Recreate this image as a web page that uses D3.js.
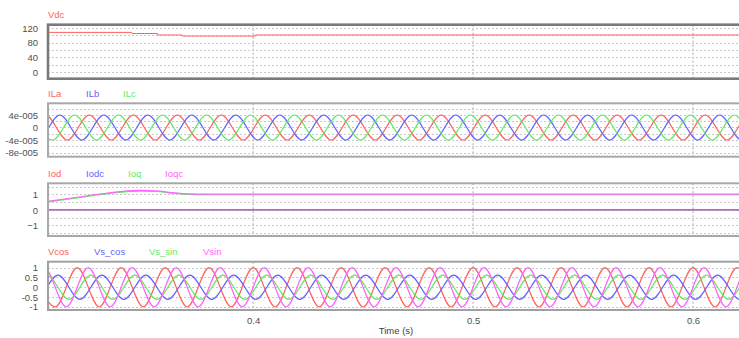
<!DOCTYPE html>
<html><head><meta charset="utf-8">
<script src="https://cdn.jsdelivr.net/npm/d3@7"></script>
<style>
body{margin:0;background:#fff;overflow:hidden}
text{font-family:"Liberation Sans",Arial,sans-serif}
</style>
</head><body>
<svg id="c" width="739" height="338"></svg>
<script>
// ---------- data ----------
const timeTicks = [0.4, 0.5, 0.6];
const timeDomain = [0.3067, 0.625];

// Panel 1: Vdc (time, value) breakpoints
const vdcT = [0.3067, 0.3448, 0.3449, 0.3564, 0.3565, 0.3677, 0.3678, 0.4009, 0.4010, 0.625];
const vdcV = [108, 108, 105, 105, 101, 101, 98, 98, 101, 101];
const vdcTicks = [0, 40, 80, 120];

// Panel 2: load currents, times of maxima / minima (s), amplitude
const ilAmp = 4e-5;
const ilaMax = [0.3055,0.3255,0.3455,0.3655,0.3855,0.4055,0.4255,0.4455,0.4655,0.4855,0.5055,0.5255,0.5455,0.5655,0.5855,0.6055,0.6255];
const ilaMin = [0.2955,0.3155,0.3355,0.3555,0.3755,0.3955,0.4155,0.4355,0.4555,0.4755,0.4955,0.5155,0.5355,0.5555,0.5755,0.5955,0.6155,0.6355];
const ilbMax = [0.2921,0.3121,0.3321,0.3521,0.3721,0.3921,0.4121,0.4321,0.4521,0.4721,0.4921,0.5121,0.5321,0.5521,0.5721,0.5921,0.6121,0.6321];
const ilbMin = [0.3021,0.3221,0.3421,0.3621,0.3821,0.4021,0.4221,0.4421,0.4621,0.4821,0.5021,0.5221,0.5421,0.5621,0.5821,0.6021,0.6221];
const ilcMax = [0.2988,0.3188,0.3388,0.3588,0.3788,0.3988,0.4188,0.4388,0.4588,0.4788,0.4988,0.5188,0.5388,0.5588,0.5788,0.5988,0.6188,0.6388];
const ilcMin = [0.3088,0.3288,0.3488,0.3688,0.3888,0.4088,0.4288,0.4488,0.4688,0.4888,0.5088,0.5288,0.5488,0.5688,0.5888,0.6088,0.6288];
const ilTicks = [-8e-5, -4e-5, 0, 4e-5];
const ilTickLabels = ["-8e-005", "-4e-005", "0", "4e-005"];

// Panel 3: output currents
const ioT = [0.3067, 0.3200, 0.3303, 0.3400, 0.3485, 0.3560, 0.3630, 0.3700, 0.3800, 0.625];
const ioqV = [0.52, 0.78, 0.99, 1.15, 1.22, 1.19, 1.08, 1.0, 0.98, 0.98];
const iodV = [0, 0, 0, 0, 0, 0, 0, 0, 0, 0];
const ioTicks = [-1, 0, 1];

// Panel 4: reference signals, maxima / minima times (s), amplitudes
const vAmp = 1, vsAmp = 0.62;
const vcosMax = [0.30,0.32,0.34,0.36,0.38,0.40,0.42,0.44,0.46,0.48,0.50,0.52,0.54,0.56,0.58,0.60,0.62];
const vcosMin = [0.31,0.33,0.35,0.37,0.39,0.41,0.43,0.45,0.47,0.49,0.51,0.53,0.55,0.57,0.59,0.61,0.63];
const vsinMax = [0.305,0.325,0.345,0.365,0.385,0.405,0.425,0.445,0.465,0.485,0.505,0.525,0.545,0.565,0.585,0.605,0.625];
const vsinMin = [0.295,0.315,0.335,0.355,0.375,0.395,0.415,0.435,0.455,0.475,0.495,0.515,0.535,0.555,0.575,0.595,0.615,0.635];
const vscosMax = [0.2912,0.3112,0.3312,0.3512,0.3712,0.3912,0.4112,0.4312,0.4512,0.4712,0.4912,0.5112,0.5312,0.5512,0.5712,0.5912,0.6112,0.6312];
const vscosMin = [0.3012,0.3212,0.3412,0.3612,0.3812,0.4012,0.4212,0.4412,0.4612,0.4812,0.5012,0.5212,0.5412,0.5612,0.5812,0.6012,0.6212];
const vssinMax = [0.3062,0.3262,0.3462,0.3662,0.3862,0.4062,0.4262,0.4462,0.4662,0.4862,0.5062,0.5262,0.5462,0.5662,0.5862,0.6062,0.6262];
const vssinMin = [0.2962,0.3162,0.3362,0.3562,0.3762,0.3962,0.4162,0.4362,0.4562,0.4762,0.4962,0.5162,0.5362,0.5562,0.5762,0.5962,0.6162,0.6362];
const vTicks = [-1, -0.5, 0, 0.5, 1];

// ---------- helpers ----------
const RED = "#ff6262", BLUE = "#6262ff", GREEN = "#62ea62", MAG = "#ff62ff";
function extrema(maxT, minT, amp) {
  return maxT.map(t => [t, amp]).concat(minT.map(t => [t, -amp])).sort((a, b) => a[0] - b[0]);
}
function zipTV(ts, vs) { return ts.map((t, i) => [t, vs[i]]); }

const svg = d3.select("#c");
const x = d3.scaleLinear().domain(timeDomain).range([48, 748]);

const panels = [
  { top: 24.7, bottom: 78.7, domain: [-18.2, 129], ticks: vdcTicks, fmt: d3.format("d"),
    grid: d3.range(0, 121, 20), border: "#7a7a7a", bw: 2.6, labelY: 18,
    labels: [{ t: "Vdc", c: RED, x: 48 }],
    series: [{ d: zipTV(vdcT, vdcV), c: RED, curve: d3.curveLinear, w: 1 }] },
  { top: 103.3, bottom: 156.7, domain: [-9.34e-5, 7.74e-5], ticks: ilTicks,
    fmt: d => ilTickLabels[ilTicks.indexOf(d)],
    grid: [-8e-5, -6e-5, -4e-5, -2e-5, 0, 2e-5, 4e-5, 6e-5], border: "#a8a8a8", bw: 2, labelY: 97,
    labels: [{ t: "ILa", c: RED, x: 48 }, { t: "ILb", c: BLUE, x: 86 }, { t: "ILc", c: GREEN, x: 123 }],
    series: [
      { d: extrema(ilaMax, ilaMin, ilAmp), c: RED, curve: d3.curveMonotoneX },
      { d: extrema(ilbMax, ilbMin, ilAmp), c: BLUE, curve: d3.curveMonotoneX },
      { d: extrema(ilcMax, ilcMin, ilAmp), c: GREEN, curve: d3.curveMonotoneX }] },
  { top: 183.3, bottom: 236, domain: [-1.68, 1.72], ticks: ioTicks, fmt: d3.format("d"),
    grid: [-1.5, -1, -0.5, 0, 0.5, 1, 1.5], border: "#a8a8a8", bw: 2, labelY: 177,
    labels: [{ t: "Iod", c: RED, x: 48 }, { t: "Iodc", c: BLUE, x: 86 }, { t: "Ioq", c: GREEN, x: 128 }, { t: "Ioqc", c: MAG, x: 165 }],
    series: [
      { d: zipTV(ioT, iodV), c: RED, curve: d3.curveLinear },
      { d: zipTV(ioT, iodV), c: BLUE, curve: d3.curveLinear, op: 0.75 },
      { d: zipTV(ioT, ioqV), c: GREEN, curve: d3.curveMonotoneX },
      { d: zipTV(ioT, ioqV), c: MAG, curve: d3.curveMonotoneX, dy: -0.6 }] },
  { top: 261.7, bottom: 310, domain: [-1.16, 1.30], ticks: vTicks, fmt: d => String(d),
    grid: [-1, -0.5, 0, 0.5, 1], border: "#a0a0a0", bw: 2, labelY: 255,
    labels: [{ t: "Vcos", c: RED, x: 48 }, { t: "Vs_cos", c: BLUE, x: 94 }, { t: "Vs_sin", c: GREEN, x: 149 }, { t: "Vsin", c: MAG, x: 203 }],
    series: [
      { d: extrema(vcosMax, vcosMin, vAmp), c: RED, curve: d3.curveMonotoneX },
      { d: extrema(vscosMax, vscosMin, vsAmp), c: BLUE, curve: d3.curveMonotoneX },
      { d: extrema(vssinMax, vssinMin, vsAmp), c: GREEN, curve: d3.curveMonotoneX },
      { d: extrema(vsinMax, vsinMin, vAmp), c: MAG, curve: d3.curveMonotoneX }] }
];

panels.forEach((p, pi) => {
  const y = d3.scaleLinear().domain(p.domain).range([p.bottom, p.top]);
  const g = svg.append("g");
  const clipId = "clip" + pi;
  svg.append("clipPath").attr("id", clipId).append("rect")
    .attr("x", x.range()[0]).attr("y", p.top).attr("width", x.range()[1] - x.range()[0]).attr("height", p.bottom - p.top);

  // horizontal grid
  g.selectAll(".hg").data(p.grid).join("line")
    .attr("x1", x.range()[0]).attr("x2", x.range()[1])
    .attr("y1", d => Math.round(y(d)) + 0.5).attr("y2", d => Math.round(y(d)) + 0.5)
    .attr("stroke", "#c8c8c8").attr("stroke-width", 1).attr("stroke-dasharray", "2,2");
  // vertical grid
  g.selectAll(".vg").data(timeTicks).join("line")
    .attr("x1", d => x(d)).attr("x2", d => x(d))
    .attr("y1", p.top).attr("y2", p.bottom)
    .attr("stroke", "#c8c8c8").attr("stroke-width", 1.6).attr("stroke-dasharray", "2,2");

  // series
  const sg = g.append("g").attr("clip-path", `url(#${clipId})`);
  p.series.forEach(s => {
    const line = d3.line().x(d => x(d[0])).y(d => y(d[1]) + (s.dy || 0)).curve(s.curve);
    sg.append("path").attr("d", line(s.d)).attr("fill", "none")
      .attr("stroke", s.c).attr("stroke-width", s.w || 1.2).attr("stroke-opacity", s.op || 1);
  });

  // frame
  g.append("rect").attr("x", x.range()[0]).attr("y", p.top)
    .attr("width", x.range()[1] - x.range()[0]).attr("height", p.bottom - p.top)
    .attr("fill", "none").attr("stroke", p.border).attr("stroke-width", p.bw);

  // y axis labels
  const ax = d3.axisLeft(y).tickValues(p.ticks).tickSize(0).tickPadding(10).tickFormat(p.fmt);
  const ag = svg.append("g").attr("transform", `translate(${x.range()[0]},0)`).call(ax);
  ag.select(".domain").remove();
  ag.selectAll("text").attr("fill", "#505050").style("font-size", "9.5px");

  // series labels
  svg.selectAll(null).data(p.labels).join("text")
    .attr("x", d => d.x).attr("y", p.labelY).attr("fill", d => d.c)
    .style("font-size", "9.5px").text(d => d.t);
});

// x axis
const xa = d3.axisBottom(x).tickValues(timeTicks).tickSize(0).tickPadding(7).tickFormat(d3.format(".1f"));
const xg = svg.append("g").attr("transform", "translate(0,310)").call(xa);
xg.select(".domain").remove();
xg.selectAll("text").attr("fill", "#505050").style("font-size", "9.5px");

svg.append("text").attr("x", 396).attr("y", 334).attr("text-anchor", "middle")
  .attr("fill", "#404040").style("font-size", "9.5px").text("Time (s)");
</script>
</body></html>
